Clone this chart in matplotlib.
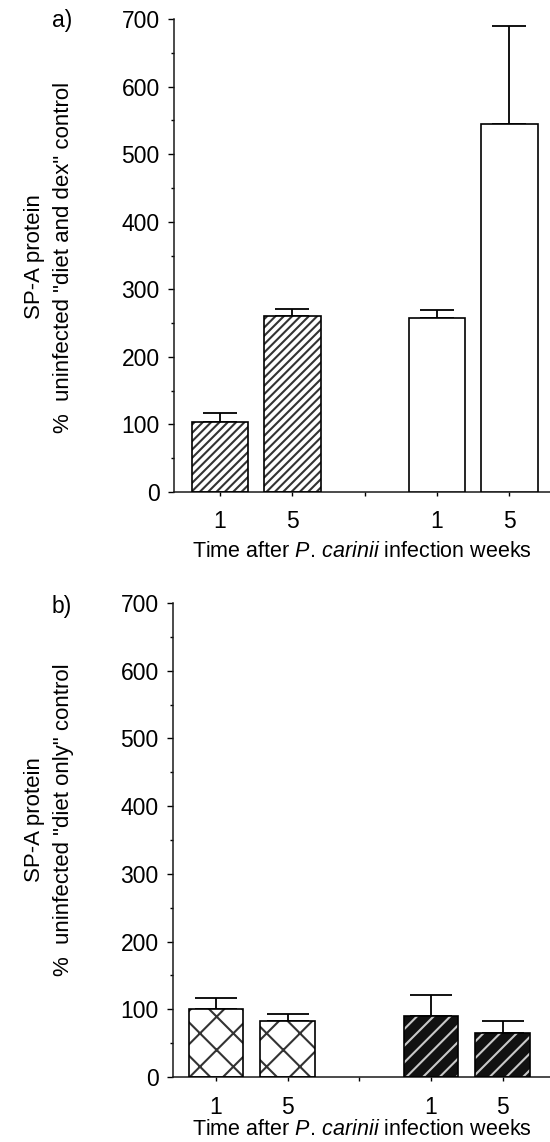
import matplotlib
matplotlib.use("Agg")
import matplotlib.pyplot as plt
from matplotlib.ticker import MultipleLocator

plt.rcParams['font.family'] = ['Liberation Sans', 'DejaVu Sans']
plt.rcParams['mathtext.fontset'] = 'custom'
plt.rcParams['mathtext.rm'] = 'Liberation Sans'
plt.rcParams['mathtext.it'] = 'Liberation Sans:italic'
plt.rcParams['hatch.linewidth'] = 1.5

# week labels and bar positions (slot 2 is the empty gap between groups)
weeks = ['1', '5', '', '1', '5']
positions = [0, 1, 3, 4]

# panel a) % of uninfected "diet and dex" control
a_means = [103, 261, 257, 544]
a_err = [14, 10, 12, 146]

# panel b) % of uninfected "diet only" control
b_means = [100, 83, 90, 65]
b_err = [16, 10, 31, 17]

XLABEL = r'Time after $\it{P.}\,\it{carinii}$ infection weeks'
W, H = 550, 1142


def style_axis(ax, xlim):
    ax.set_xlim(*xlim)
    ax.set_ylim(0, 700)
    ax.yaxis.set_major_locator(MultipleLocator(100))
    ax.yaxis.set_minor_locator(MultipleLocator(50))
    ax.set_xticks(range(5))
    ax.set_xticklabels(weeks)
    for side in ('top', 'right'):
        ax.spines[side].set_visible(False)
    for side in ('left', 'bottom'):
        ax.spines[side].set_linewidth(1.1)
        ax.spines[side].set_color('#1a1a1a')
    ax.tick_params(axis='y', which='major', length=4.3, width=1.0, labelsize=16.5, pad=6)
    ax.tick_params(axis='y', which='minor', length=2.5, width=1.0)
    ax.tick_params(axis='x', length=3, width=1.0, labelsize=16.5, pad=10)


fig = plt.figure(figsize=(W / 100, H / 100), dpi=100)

# ---- panel a
ax1 = fig.add_axes([174 / W, 1 - 492 / H, 376 / W, 473 / H])
ax1.bar(positions[:2], a_means[:2], width=0.78, color='white', edgecolor='#333333',
        hatch='////', linewidth=0, zorder=2)
ax1.bar(positions[:2], a_means[:2], width=0.78, fill=False, edgecolor='black',
        linewidth=1.2, zorder=3)
ax1.bar(positions[2:], a_means[2:], width=0.78, color='white', edgecolor='black',
        linewidth=1.2, zorder=3)
ax1.errorbar(positions, a_means, yerr=[[0] * 4, a_err], fmt='none', ecolor='black',
             elinewidth=1.3, capsize=12.5, capthick=1.3, zorder=1)
style_axis(ax1, (-0.635, 4.56))
ax1.set_xlabel(XLABEL, fontsize=15.5, labelpad=6)
fig.text(49 / W, 1 - 257 / H, 'SP-A protein\n%  uninfected "diet and dex" control',
         rotation=90, ha='center', va='center', fontsize=16, linespacing=1.55)
fig.text(62 / W, 1 - 20 / H, 'a)', fontsize=16.5, ha='center', va='center')

# ---- panel b
ax2 = fig.add_axes([173 / W, 1 - 1077 / H, 377 / W, 474 / H])
ax2.bar(positions[:2], b_means[:2], width=0.76, color='white', edgecolor='#333333',
        hatch='x', linewidth=0, zorder=2)
ax2.bar(positions[:2], b_means[:2], width=0.76, fill=False, edgecolor='black',
        linewidth=1.2, zorder=3)
ax2.bar(positions[2:], b_means[2:], width=0.76, color='#111111', edgecolor='#c8c8c8',
        hatch='//', linewidth=0, zorder=2)
ax2.bar(positions[2:], b_means[2:], width=0.76, fill=False, edgecolor='black',
        linewidth=1.2, zorder=3)
ax2.errorbar(positions, b_means, yerr=[[0] * 4, b_err], fmt='none', ecolor='black',
             elinewidth=1.3, capsize=15, capthick=1.3, zorder=1)
style_axis(ax2, (-0.6, 4.66))
ax2.tick_params(axis='x', pad=11)
ax2.set_xlabel(XLABEL, fontsize=15.5, labelpad=0)
fig.text(49 / W, 1 - 820 / H, 'SP-A protein\n%  uninfected "diet only" control',
         rotation=90, ha='center', va='center', fontsize=16, linespacing=1.55)
fig.text(62 / W, 1 - 607 / H, 'b)', fontsize=16.5, ha='center', va='center')

fig.savefig('out.png', dpi=100)
